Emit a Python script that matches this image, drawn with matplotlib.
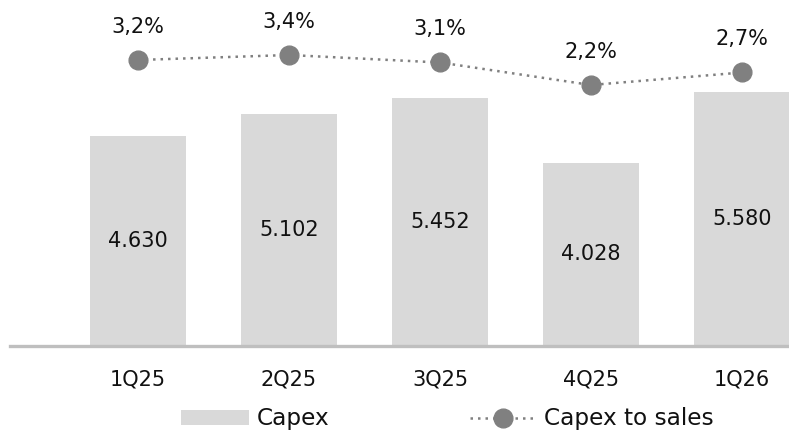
import matplotlib
matplotlib.use("Agg")
import matplotlib.pyplot as plt
from matplotlib.patches import Patch
from matplotlib.lines import Line2D

categories = ["1Q25", "2Q25", "3Q25", "4Q25", "1Q26"]
capex = [4630, 5102, 5452, 4028, 5580]
capex_labels = ["4.630", "5.102", "5.452", "4.028", "5.580"]
capex_to_sales = [3.2, 3.4, 3.1, 2.2, 2.7]
pct_labels = ["3,2%", "3,4%", "3,1%", "2,2%", "2,7%"]

W, H = 789, 433
fig = plt.figure(figsize=(W / 100, H / 100), dpi=100)
plt.rcParams['font.family'] = ['DejaVu Sans']
fs = 15
lfs = 16.7

ax = fig.add_axes([10 / W, (H - 346) / H, 779 / W, 346 / H])
x = list(range(len(categories)))
bar_color = "#D9D9D9"
ax.bar(x, capex, width=0.63, color=bar_color, zorder=1)
for xi, v, lab in zip(x, capex, capex_labels):
    ax.text(xi, v / 2, lab, ha="center", va="center", fontsize=fs, color="#111111")

ax.set_xlim(-0.848, 4.311)
ax.set_ylim(0, 7612)
ax.set_yticks([])
ax.set_xticks(x)
ax.set_xticklabels(categories, fontsize=fs, color="#111111")
ax.tick_params(axis="x", length=0, pad=17)
for s in ["top", "right", "left"]:
    ax.spines[s].set_visible(False)
ax.spines["bottom"].set_color("#BFBFBF")
ax.spines["bottom"].set_linewidth(2.4)
ax.spines["bottom"].set_zorder(3)

ax2 = ax.twinx()
ax2.set_ylim(-8.24, 5.6)
ax2.axis("off")
line_color = "#808080"
dot_style = (0, (1, 2))
ax2.plot(x, capex_to_sales, linestyle=dot_style, linewidth=1.8, color=line_color,
         marker="o", markersize=13.5, markerfacecolor=line_color, markeredgecolor=line_color)
for xi, v, lab in zip(x, capex_to_sales, pct_labels):
    ax2.annotate(lab, (xi, v), xytext=(0, 24), textcoords="offset points",
                 ha="center", va="center", fontsize=fs, color="#111111")

h1 = [Patch(facecolor=bar_color, edgecolor="none", label="Capex")]
h2 = [Line2D([0], [0], linestyle=dot_style, linewidth=1.8, color=line_color,
             marker="o", markersize=13.5, label="Capex to sales")]
common = dict(loc="center left", frameon=False, fontsize=lfs, handleheight=0.62,
              handletextpad=0.35, borderpad=0, borderaxespad=0, labelcolor="#111111")
fig.legend(handles=h1, bbox_to_anchor=(181 / W, 14 / H), handlelength=2.93, **common)
fig.legend(handles=h2, bbox_to_anchor=(470 / W, 14 / H), handlelength=2.85, **common)

fig.savefig("out.png", dpi=100)
